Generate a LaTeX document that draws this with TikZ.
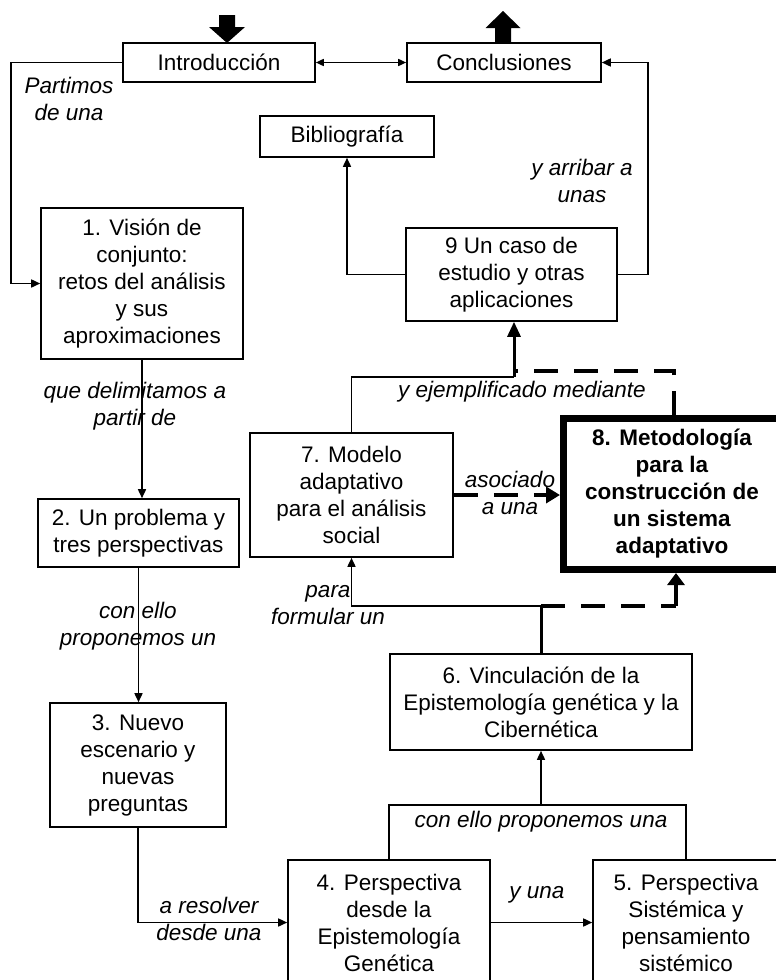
\documentclass[tikz,border=0pt]{standalone}
\usepackage{fontspec}
\setmainfont{Liberation Sans}
\usetikzlibrary{arrows.meta,calc}
\newcommand\fsz{\fontsize{22.5}{27}\selectfont}
\begin{document}
\begin{tikzpicture}[x=1pt,y=-1pt,
  box/.style={draw, line width=1.6pt, align=center, inner sep=0pt, font=\fsz},
  lbl/.style={align=center, inner sep=0pt, font=\fsz\itshape},
  conn/.style={line width=1.6pt},
  arr/.style={conn, -{Triangle[length=9pt,width=8pt]}},
  dsh/.style={line width=4.5pt, dash pattern=on 24pt off 16pt}]
\useasboundingbox (0,0) rectangle (776,980);
\fill[white] (0,0) rectangle (776,980);

% boxes
\node[box, minimum width=192pt, minimum height=39pt] (intro) at (219,62.5) {Introducción};
\node[box, minimum width=194pt, minimum height=39pt] (concl) at (504,62.5) {Conclusiones};
\node[box, minimum width=174pt, minimum height=41pt] (biblio) at (347,136.5) {Bibliografía};
\node[box, minimum width=202pt, minimum height=151pt] (b1) at (142,283.5) {1. Visión de\\conjunto:\\retos del análisis\\y sus\\aproximaciones};
\node[box, minimum width=211pt, minimum height=93pt] (b9) at (511.5,274.5) {9 Un caso de\\estudio y otras\\aplicaciones};
\node[box, minimum width=201pt, minimum height=68pt] (b2) at (138.5,533) {2. Un problema y\\tres perspectivas};
\node[box, minimum width=176pt, minimum height=124pt] (b3) at (138,765) {3. Nuevo\\escenario y\\nuevas\\preguntas};
\node[box, minimum width=203pt, minimum height=124pt] (b7) at (351.5,495) {7. Modelo\\adaptativo\\para el análisis\\social};
\node[box, line width=7pt, minimum width=217pt, minimum height=151pt, font=\fsz\bfseries] (b8) at (672,494) {8. Metodología\\para la\\construcción de\\un sistema\\adaptativo};
\node[box, minimum width=302pt, minimum height=96pt] (b6) at (541,702) {6. Vinculación de la\\Epistemología genética y la\\Cibernética};
\node[box, minimum width=202pt, minimum height=125pt] (b4) at (389,922.5) {4. Perspectiva\\desde la\\Epistemología\\Genética};
\node[box, minimum width=186pt, minimum height=125pt] (b5) at (686,922.5) {5. Perspectiva\\Sistémica y\\pensamiento\\sistémico};

% labels
\node[lbl] (lpart) at (69,99) {Partimos\\de una};
\node[lbl] (larr) at (582,180.5) {y arribar a\\unas};
\node[lbl] (lque) at (135,406.5) {que delimitamos a\\partir de};
\node[lbl] (lcon) at (138,626.5) {con ello\\proponemos un};
\node[lbl] (lpara) at (328,605.5) {para\\formular un};
\node[lbl] (laso) at (510,493) {asociado\\a una};
\node[lbl] (leje) at (522,392) {y ejemplificado mediante};
\node[lbl] (lcon2) at (541,822) {con ello proponemos una};
\node[lbl] (lres) at (209,918.5) {a resolver\\desde una};
\node[lbl] (lyuna) at (537,895) {y una};

% block arrows
\fill (219,15) -- (235,15) -- (235,27) -- (245,27) -- (227,43) -- (209,27) -- (219,27) -- cycle;
\fill (503,11) -- (520.5,28) -- (511,28) -- (511,43) -- (495,43) -- (495,28) -- (485.5,28) -- cycle;

% connectors
\draw[arr] (intro.west) -- (11,62.5) |- (b1.west);
\draw[conn, {Triangle[length=8pt,width=7pt]}-{Triangle[length=8pt,width=7pt]}] (intro.east) -- (concl.west);
\draw[arr] (b9.west) -| (biblio.south);
\draw[arr] (b9.east) -- (648,274.5) |- (concl.east);
\draw[arr] (b1.south) -- (b1.south |- b2.north);
\draw[arr] (b2.south) -- (b2.south |- b3.north);
\draw[arr] (b3.south) |- (b4.west);
\draw[arr] (b4.east) -- (b5.west);
\draw[conn] (b4.north) -- (389,805) -| (b5.north);
\coordinate (jn) at (541,805);
\draw[arr] (jn) -- (b6.south);
\coordinate (j2) at (541,606);
\coordinate (j3) at (676,606);
\draw[line width=3pt] (b6.north) -- (j2);
\draw[arr] (j2) -| (b7.south);
\draw[dsh] (j2) -- (j3);
\draw[dsh, -{Triangle[length=12pt,width=17pt]}] (j3) -- (j3 |- b8.south);
\draw[dsh, -{Triangle[length=14pt,width=16pt]}] (b7.east) -- (b7.east -| b8.west);
\coordinate (j4) at (514,377);
\coordinate (j5) at (514,371);
\draw[conn] (b7.north) |- (j4);
\draw[line width=3pt, -{Triangle[length=15pt,width=13pt]}] (j4) -- (j4 |- b9.south);
\draw[dsh] ($(b8.north)+(2,0)$) |- (j5);
\end{tikzpicture}
\end{document}
